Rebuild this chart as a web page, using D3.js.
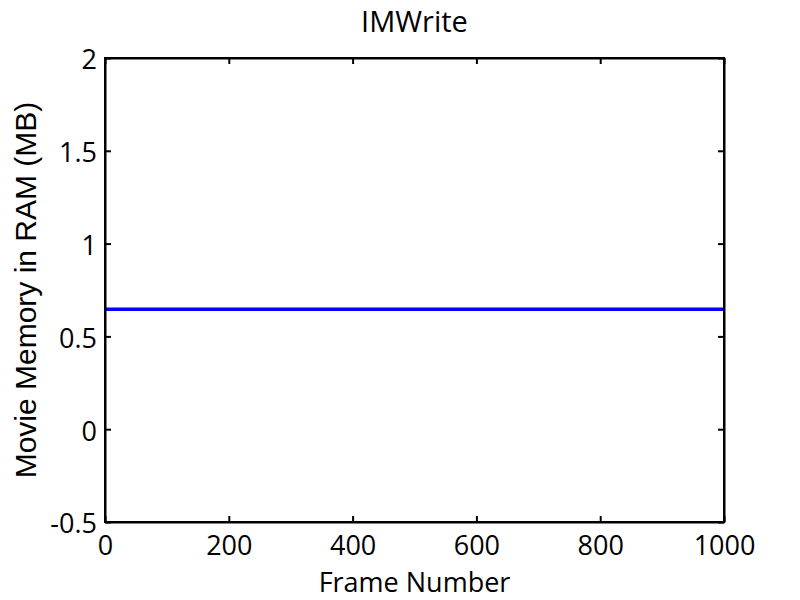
<!DOCTYPE html>
<html>
<head>
<meta charset="utf-8">
<script src="https://cdn.jsdelivr.net/npm/d3@7"></script>
<style>
  body { margin: 0; background: #fff; }
  text { font-family: "Open Sans", sans-serif; fill: #000; }
</style>
</head>
<body>
<div id="chart"></div>
<script>
// data
const frames = [0, 250, 500, 750, 1000];
const memoryMB = [0.646, 0.646, 0.646, 0.646, 0.646];
const xTicks = [0, 200, 400, 600, 800, 1000];
const yTicks = [-0.5, 0, 0.5, 1, 1.5, 2];

const margin = ({top: 58, right: 76, bottom: 78, left: 105});
const width = 800 - margin.left - margin.right;
const height = 600 - margin.top - margin.bottom;

const svg = d3.select('#chart')
    .append('svg')
    .attr('width', 800)
    .attr('height', 600);

const g = svg.append('g')
    .attr('transform', 'translate(' + margin.left + ',' + margin.top + ')');

const xScale = d3.scaleLinear().domain([0, 1000]).range([0, width]);
const yScale = d3.scaleLinear().domain([-0.5, 2]).range([height, 0]);

// ticks point inward, mirrored on top/right
const fmt = d => String(d);
const xAxis = d3.axisBottom(xScale).tickValues(xTicks).tickFormat(fmt).tickSizeInner(-6).tickSizeOuter(0).tickPadding(14);
const yAxis = d3.axisLeft(yScale).tickValues(yTicks).tickFormat(fmt).tickSizeInner(-6).tickSizeOuter(0).tickPadding(8);
const xTop = d3.axisTop(xScale).tickValues(xTicks).tickFormat('').tickSizeInner(-6).tickSizeOuter(0);
const yRight = d3.axisRight(yScale).tickValues(yTicks).tickFormat('').tickSizeInner(-6).tickSizeOuter(0);

// line
const line = d3.line()
    .x((d, i) => xScale(frames[i]))
    .y(d => yScale(d));

g.append('path')
    .datum(memoryMB)
    .attr('fill', 'none')
    .attr('stroke', '#0000ff')
    .attr('stroke-width', 3.5)
    .attr('d', line);

g.append('g').attr('class', 'axis x-axis')
    .attr('transform', 'translate(0,' + height + ')')
    .call(xAxis);
g.append('g').attr('class', 'axis y-axis')
    .call(yAxis);
g.append('g').attr('class', 'axis')
    .call(xTop);
g.append('g').attr('class', 'axis')
    .attr('transform', 'translate(' + width + ',0)')
    .call(yRight);

g.selectAll('.axis path, .axis line')
    .attr('stroke', '#000')
    .attr('stroke-width', 2);
g.selectAll('.axis text')
    .style('font-size', '27px')
    .style('font-family', '"Open Sans", sans-serif');
g.selectAll('.y-axis text').attr('dy', '0.4em');

// box
g.append('rect')
    .attr('width', width)
    .attr('height', height)
    .attr('fill', 'none')
    .attr('stroke', '#000')
    .attr('stroke-width', 2);

// labels
svg.append('text')
    .attr('x', margin.left + width / 2)
    .attr('y', 32)
    .attr('text-anchor', 'middle')
    .style('font-size', '29px')
    .text('IMWrite');

svg.append('text')
    .attr('x', margin.left + width / 2)
    .attr('y', 592)
    .attr('text-anchor', 'middle')
    .style('font-size', '27px')
    .text('Frame Number');

svg.append('text')
    .attr('transform', 'translate(36,' + (margin.top + height / 2) + ') rotate(-90)')
    .attr('text-anchor', 'middle')
    .style('font-family', '"Liberation Sans", Arial, sans-serif')
    .style('font-size', '30px')
    .text('Movie Memory in RAM (MB)');
</script>
</body>
</html>
